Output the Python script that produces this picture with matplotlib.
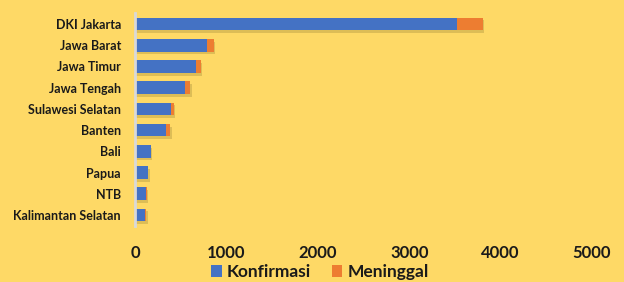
import matplotlib
matplotlib.use("Agg")
import matplotlib.pyplot as plt
import matplotlib.patheffects as pe

provinces = ["DKI Jakarta", "Jawa Barat", "Jawa Timur", "Jawa Tengah", "Sulawesi Selatan",
             "Banten", "Bali", "Papua", "NTB", "Kalimantan Selatan"]
konfirmasi = [3520, 790, 665, 550, 390, 340, 170, 140, 125, 115]
meninggal = [285, 70, 55, 55, 35, 45, 4, 6, 3, 8]
xticks = [0, 1000, 2000, 3000, 4000, 5000]

bg = "#FED966"
blue = "#4472C4"
orange = "#ED7D31"

plt.rcParams['font.family'] = ['Lato', 'DejaVu Sans']

fig = plt.figure(figsize=(6.24, 2.82), dpi=100, facecolor=bg)
ax = fig.add_axes([0.2163, 0.2, 0.7324, 0.7525])
ax.set_facecolor(bg)

y = list(range(len(provinces)))
shadow = [pe.SimplePatchShadow(offset=(1, -2), shadow_rgbFace="#6b5a1e", alpha=0.22), pe.Normal()]
b1 = ax.barh(y, konfirmasi, height=0.6, color=blue, label="Konfirmasi", path_effects=shadow)
b2 = ax.barh(y, meninggal, left=konfirmasi, height=0.6, color=orange, label="Meninggal", path_effects=shadow)

ax.set_ylim(len(provinces) - 0.5, -0.5)
ax.set_yticks(y)
ax.set_yticklabels(provinces, fontsize=9, fontweight='bold', color="#1a1a1a")
ax.set_xlim(0, 5000)
ax.set_xticks(xticks)
ax.set_xticklabels([str(v) for v in xticks], fontsize=12, fontweight='bold', color="#1a1a1a")
ax.tick_params(axis='both', length=0)
ax.tick_params(axis='x', pad=14)
ax.tick_params(axis='y', pad=10)
for s in ["top", "right", "bottom"]:
    ax.spines[s].set_visible(False)
ax.spines["left"].set_color("#D9D9D9")
ax.spines["left"].set_linewidth(2)

leg = fig.legend(handles=[b1, b2], labels=["Konfirmasi", "Meninggal"], loc="center",
                 bbox_to_anchor=(0.513, 0.035), ncol=2, frameon=False,
                 prop={'size': 12.5, 'weight': 'bold'}, handlelength=0.6, handleheight=0.6,
                 handletextpad=0.3, columnspacing=1.2)
for t in leg.get_texts():
    t.set_color("#1a1a1a")
for h in leg.legend_handles:
    h.set_path_effects([])

fig.savefig("out.png", dpi=100, facecolor=bg)
